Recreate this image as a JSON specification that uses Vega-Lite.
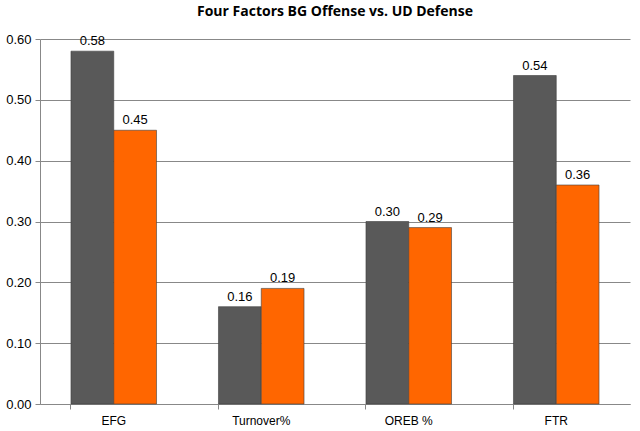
{
  "$schema": "https://vega.github.io/schema/vega-lite/v6.json",
  "width": 640,
  "height": 431,
  "autosize": {"type": "fit", "contains": "padding"},
  "padding": {"left": 5, "right": 10, "top": 5, "bottom": 5},
  "title": {"text": "Four Factors BG Offense vs. UD Defense", "font": "Open Sans", "fontSize": 14, "fontWeight": "bold", "color": "#000000", "offset": 14},
  "config": {"view": {"stroke": null}, "font": "Liberation Sans"},
  "data": {
    "values": [
      {"factor": "EFG", "team": "BG Offense", "value": 0.58},
      {"factor": "EFG", "team": "UD Defense", "value": 0.45},
      {"factor": "Turnover%", "team": "BG Offense", "value": 0.16},
      {"factor": "Turnover%", "team": "UD Defense", "value": 0.19},
      {"factor": "OREB %", "team": "BG Offense", "value": 0.30},
      {"factor": "OREB %", "team": "UD Defense", "value": 0.29},
      {"factor": "FTR", "team": "BG Offense", "value": 0.54},
      {"factor": "FTR", "team": "UD Defense", "value": 0.36}
    ]
  },
  "encoding": {
    "x": {"field": "factor", "type": "nominal", "sort": null, "title": null,
      "scale": {"paddingInner": 0.42, "paddingOuter": 0.21},
      "axis": {"labelAngle": 0, "labelFontSize": 12, "labelColor": "#000000", "domainColor": "#888888", "ticks": true, "tickColor": "#888888", "bandPosition": 0, "labelPadding": 6}},
    "xOffset": {"field": "team", "type": "nominal"},
    "y": {"field": "value", "type": "quantitative", "title": null,
      "scale": {"domain": [0, 0.6]},
      "axis": {"format": ".2f", "values": [0, 0.1, 0.2, 0.3, 0.4, 0.5, 0.6], "labelOverlap": false, "labelFontSize": 13, "labelColor": "#000000", "gridColor": "#888888", "domainColor": "#888888", "tickColor": "#888888", "labelPadding": 4}},
    "color": {"field": "team", "type": "nominal", "legend": null,
      "scale": {"domain": ["BG Offense", "UD Defense"], "range": ["#595959", "#ff6600"]}}
  },
  "layer": [
    {"mark": {"type": "bar", "stroke": "#404040", "strokeWidth": 0.6}},
    {"mark": {"type": "text", "dy": -10, "fontSize": 13, "color": "#000000"},
      "encoding": {"text": {"field": "value", "type": "quantitative", "format": ".2f"}, "color": {"value": "#000000"}}}
  ]
}
